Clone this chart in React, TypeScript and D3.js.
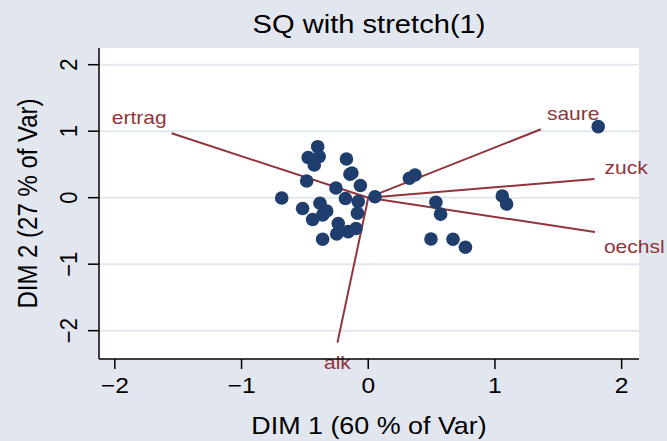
import React from "react";
import * as d3 from "d3";

const W = 667;
const H = 441;

// Observation scores (DIM 1, DIM 2)
const obsX = [
  -0.399, -0.474, -0.387, -0.426, -0.172, -0.144, -0.129, -0.486, -0.062, -0.255,
  -0.683, -0.18, 0.053, -0.079, -0.518, -0.381, -0.328, -0.36, -0.439, -0.237,
  -0.085, -0.249, -0.158, -0.097, -0.36, 0.325, 0.369, 0.534, 0.571, 0.495,
  0.669, 0.767, 1.058, 1.092, 1.815,
];
const obsY = [
  0.767, 0.605, 0.62, 0.492, 0.582, 0.352, 0.371, 0.251, 0.183, 0.146,
  -0.005, -0.012, 0.015, -0.06, -0.162, -0.084, -0.2, -0.26, -0.328, -0.388,
  -0.235, -0.546, -0.511, -0.463, -0.626, 0.292, 0.341, -0.069, -0.248, -0.621,
  -0.626, -0.746, 0.026, -0.095, 1.068,
];

// Variable loadings (stretched)
const varNames = ["ertrag", "saure", "zuck", "oechsl", "alk"];
const varX = [-1.552, 1.363, 1.786, 1.789, -0.243];
const varY = [0.968, 1.029, 0.281, -0.516, -2.18];
const varClock = [11, 1, 2, 4, 6];

const xTicks = [-2, -1, 0, 1, 2];
const yTicks = [-2, -1, 0, 1, 2];

const title = "SQ with stretch(1)";
const xTitle = "DIM 1 (60 % of Var)";
const yTitle = "DIM 2 (27 % of Var)";

const BG = "#e1e6ef";
const GRID = "#e1e6ef";
const NAVY = "#1f3e6e";
const MAROON = "#90353b";
const FONT = "'Liberation Sans', Arial, Helvetica, sans-serif";
const SX = 1.12;

const plot = { left: 99, right: 639, top: 48, bottom: 359 };

const clockOffset: Record<number, { anchor: string; dx: number; dy: number }> = {
  11: { anchor: "end", dx: -5, dy: -9 },
  1: { anchor: "start", dx: 6, dy: -9 },
  2: { anchor: "start", dx: 10, dy: -5 },
  4: { anchor: "start", dx: 9, dy: 21 },
  6: { anchor: "middle", dx: 0, dy: 26 },
};

const fmt = (v: number) => (v < 0 ? "\u2212" + Math.abs(v) : String(v));

export default function App() {
  const x = d3.scaleLinear().domain([-2.125, 2.137]).range([plot.left, plot.right]);
  const y = d3.scaleLinear().domain([-2.426, 2.251]).range([plot.bottom, plot.top]);
  const cx = (plot.left + plot.right) / 2;
  const cy = (plot.top + plot.bottom) / 2;

  return (
    <svg
      width={W}
      height={H}
      style={{ position: "absolute", left: 0, top: 0, display: "block" }}
      fontFamily={FONT}
    >
      <rect x={0} y={0} width={W} height={H} fill={BG} />
      <rect
        x={plot.left}
        y={plot.top}
        width={plot.right - plot.left}
        height={plot.bottom - plot.top}
        fill="#ffffff"
      />
      {/* gridlines */}
      {yTicks.map((t) => (
        <line
          key={"g" + t}
          x1={plot.left}
          x2={plot.right}
          y1={y(t)}
          y2={y(t)}
          stroke={GRID}
          strokeWidth={2}
        />
      ))}
      {/* variable vectors */}
      {varNames.map((n, i) => (
        <line
          key={"v" + n}
          x1={x(0)}
          y1={y(0)}
          x2={x(varX[i])}
          y2={y(varY[i])}
          stroke={MAROON}
          strokeWidth={2}
        />
      ))}
      {/* observations */}
      {obsX.map((v, i) => (
        <circle key={"o" + i} cx={x(v)} cy={y(obsY[i])} r={6.8} fill={NAVY} />
      ))}
      {/* vector labels */}
      {varNames.map((n, i) => {
        const o = clockOffset[varClock[i]];
        return (
          <text
            key={"l" + n}
            transform={`translate(${x(varX[i]) + o.dx},${y(varY[i]) + o.dy}) scale(1.2,1)`}
            textAnchor={o.anchor}
            fontSize={17.5}
            fill={MAROON}
          >
            {n}
          </text>
        );
      })}
      {/* axes */}
      <line x1={plot.left} x2={plot.left} y1={plot.top} y2={plot.bottom} stroke="#000" strokeWidth={1.5} />
      <line x1={plot.left} x2={plot.right} y1={plot.bottom} y2={plot.bottom} stroke="#000" strokeWidth={1.5} />
      {xTicks.map((t) => (
        <g key={"xt" + t}>
          <line x1={x(t)} x2={x(t)} y1={plot.bottom} y2={plot.bottom + 10} stroke="#000" strokeWidth={1.5} />
          <text
            transform={`translate(${x(t)},393) scale(${SX},1)`}
            textAnchor="middle"
            fontSize={22}
            fill="#000"
          >
            {fmt(t)}
          </text>
        </g>
      ))}
      {yTicks.map((t) => (
        <g key={"yt" + t}>
          <line x1={plot.left - 11} x2={plot.left} y1={y(t)} y2={y(t)} stroke="#000" strokeWidth={1.5} />
          <text
            transform={`translate(77,${y(t)}) rotate(-90) scale(1,${SX})`}
            textAnchor="middle"
            fontSize={22}
            fill="#000"
          >
            {fmt(t)}
          </text>
        </g>
      ))}
      {/* titles */}
      <text
        transform={`translate(${cx},33) scale(${SX},1)`}
        textAnchor="middle"
        fontSize={26}
        fill="#000"
      >
        {title}
      </text>
      <text
        transform={`translate(${cx},434) scale(${SX},1)`}
        textAnchor="middle"
        fontSize={24}
        fill="#000"
      >
        {xTitle}
      </text>
      <text
        transform={`translate(37,${cy}) rotate(-90) scale(1,${SX})`}
        textAnchor="middle"
        fontSize={24}
        fill="#000"
      >
        {yTitle}
      </text>
    </svg>
  );
}
